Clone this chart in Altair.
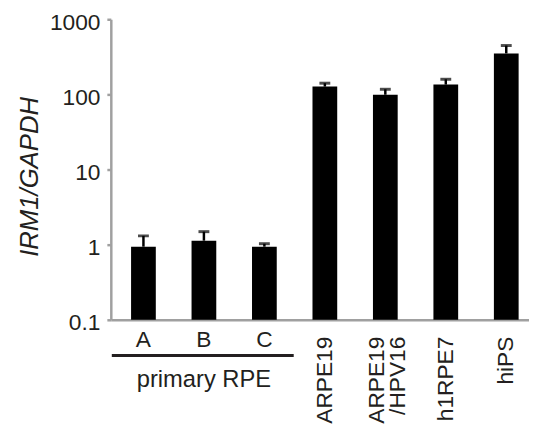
import altair as alt
import pandas as pd

categories = ["A", "B", "C", "ARPE19", "ARPE19/HPV16", "h1RPE7", "hiPS"]
values = [0.94, 1.13, 0.94, 127, 99, 135, 351]
err_upper = [1.31, 1.49, 1.03, 141, 117, 159, 447]

h_label_cats = ["A", "B", "C"]
h_labels = ["A", "B", "C"]
r_label_cats = ["ARPE19", "h1RPE7", "hiPS"]
r_labels = ["ARPE19", "h1RPE7", "hiPS"]
r2_label_cats = ["ARPE19/HPV16"]
r2_labels = ["ARPE19\n/HPV16"]

group_mid = ["B"]
group_name = ["primary RPE"]

y_ticks = [0.1, 1, 10, 100, 1000]

TXT = "#231f20"
GRAY = "#a0a0a0"
FONT = "Liberation Sans"

df = pd.DataFrame({"cat": categories, "value": values, "err": err_upper})
df_h = pd.DataFrame({"cat": h_label_cats, "label": h_labels})
df_r = pd.DataFrame({"cat": r_label_cats, "label": r_labels})
df_r2 = pd.DataFrame({"cat": r2_label_cats, "label": r2_labels})
df_g = pd.DataFrame({"mid": group_mid, "name": group_name})

xscale = alt.Scale(domain=categories, range=[0, 433], paddingInner=0.591, paddingOuter=0.335)
yscale = alt.Scale(type="log", domain=[0.1, 1000])
yaxis = alt.Axis(values=y_ticks, format="~g", grid=False, labelFontSize=23, labelColor=TXT,
                 labelFont=FONT, labelPadding=7, labelOffset=3, tickSize=4, tickWidth=2.5,
                 tickColor=GRAY, domainColor=GRAY, domainWidth=2.5,
                 title="IRM1/GAPDH", titleFont=FONT, titleFontSize=26, titleFontStyle="italic",
                 titleFontWeight="normal", titleColor=TXT, titleX=-82, titleY=159,
                 titleAlign="center", titleBaseline="middle", titleAngle=270)
xaxis = alt.Axis(labels=False, ticks=False, title=None, domainColor=GRAY, domainWidth=2.5, grid=False)

base = alt.Chart(df)
bars = base.mark_bar(color="black").encode(
    x=alt.X("cat:N", scale=xscale, axis=xaxis),
    y=alt.Y("value:Q", scale=yscale, axis=yaxis),
    y2=alt.datum(0.1),
)
stems = base.mark_rule(color="black", strokeWidth=2.5).encode(
    x=alt.X("cat:N", scale=xscale, axis=xaxis),
    y=alt.Y("value:Q", scale=yscale, axis=yaxis),
    y2="err:Q",
)
caps = base.mark_tick(color="black", thickness=3, size=11).encode(
    x=alt.X("cat:N", scale=xscale, axis=xaxis),
    y=alt.Y("err:Q", scale=yscale, axis=yaxis),
)
hlab = alt.Chart(df_h).mark_text(fontSize=23, font=FONT, color=TXT, align="center",
                                 baseline="alphabetic").encode(
    x=alt.X("cat:N", scale=xscale, axis=xaxis),
    y=alt.value(332),
    text="label:N",
)
rlab = alt.Chart(df_r).mark_text(fontSize=23, font=FONT, color=TXT, angle=270, align="right",
                                 baseline="middle").encode(
    x=alt.X("cat:N", scale=xscale, axis=xaxis),
    y=alt.value(321),
    text="label:N",
)
rlab2 = alt.Chart(df_r2).mark_text(fontSize=23, font=FONT, color=TXT, angle=270, align="right",
                                   baseline="middle", lineBreak="\n", lineHeight=21, dy=-8).encode(
    x=alt.X("cat:N", scale=xscale, axis=xaxis),
    y=alt.value(321),
    text="label:N",
)
gline = alt.Chart(df_g).mark_rule(color=TXT, strokeWidth=3).encode(
    x=alt.value(1), x2=alt.value(185), y=alt.value(340),
)
gtext = alt.Chart(df_g).mark_text(fontSize=24, font=FONT, color=TXT, align="center",
                                  baseline="alphabetic").encode(
    x=alt.X("mid:N", scale=xscale, axis=xaxis),
    y=alt.value(372),
    text="name:N",
)

chart = alt.layer(bars, stems, caps, hlab, rlab, rlab2, gline, gtext).properties(
    width=423, height=304,
    autosize=alt.AutoSizeParams(type="none"),
    padding={"left": 104, "top": 9, "right": 0, "bottom": 103},
).configure_view(stroke=None)

chart.save("out.html", embed_options={"renderer": "svg", "actions": False})
